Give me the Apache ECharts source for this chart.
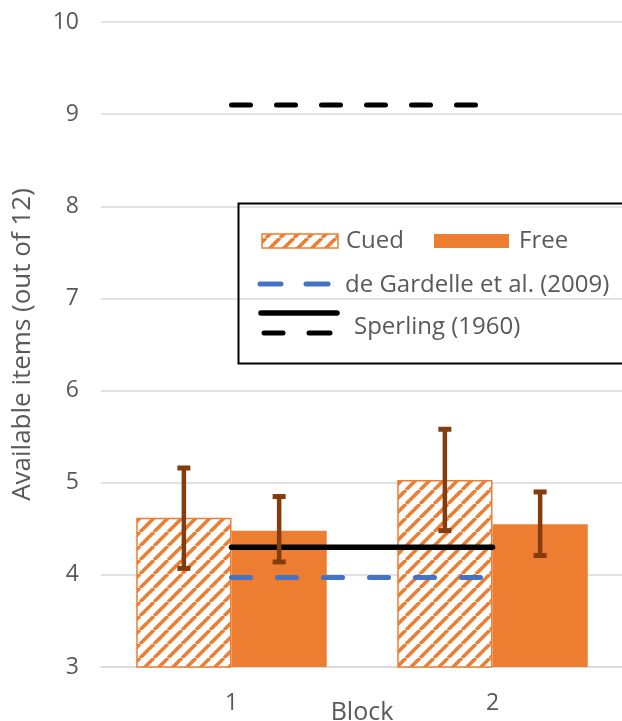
<!DOCTYPE html>
<html>
<head>
<meta charset="utf-8">
<script src="https://cdn.jsdelivr.net/npm/echarts@6/dist/echarts.min.js"></script>
<style>
  html, body { margin: 0; padding: 0; background: #fff; }
  #chart { width: 622px; height: 721px; }
</style>
</head>
<body>
<div id="chart"></div>
<script>
// Available items per block, with error-bar limits
const blocks = ['1', '2'];
const cuedMeans = [4.62, 5.03];
const freeMeans = [4.48, 4.55];
const cuedLow = [4.07, 4.48];
const cuedHigh = [5.16, 5.58];
const freeLow = [4.14, 4.21];
const freeHigh = [4.85, 4.90];
// Reference levels from earlier studies
const deGardelle = [3.97, 3.97];
const sperlingPartial = [4.30, 4.30];
const sperlingWhole = [9.10, 9.10];
// Value axis range
const yMin = 3, yMax = 10, yStep = 1;

const seriesNames = ['Cued', 'Free', 'de Gardelle et al. (2009)', 'Sperling (1960)'];

const ORANGE = '#ED7D31';
const BROWN = '#843C0C';
const BLUE = '#4472C4';
const TEXT = '#595959';
const GRID = '#D9D9D9';
const FONT = '"Open Sans", sans-serif';
const GAP = 0.27;

// Diagonal hatch tile for the cued bars
function hatchTile() {
  const s = 14;
  const c = document.createElement('canvas');
  c.width = s; c.height = s;
  const g = c.getContext('2d');
  g.fillStyle = '#fff';
  g.fillRect(0, 0, s, s);
  g.strokeStyle = ORANGE;
  g.lineWidth = 3.5;
  g.beginPath();
  for (let k = -1; k <= 1; k++) {
    g.moveTo(k * s, s);
    g.lineTo(k * s + s, 0);
  }
  g.stroke();
  return c;
}
const hatch = { image: hatchTile(), repeat: 'repeat' };

// Error bars placed over the left (-1) or right (+1) bar of each block
function errorBars(name, low, high, side) {
  return {
    type: 'custom',
    name: name + ' error',
    z: 6,
    data: blocks.map((b, i) => [i, low[i], high[i]]),
    encode: { x: 0, y: [1, 2] },
    renderItem(params, api) {
      const i = api.value(0);
      const lo = api.coord([i, api.value(1)]);
      const hi = api.coord([i, api.value(2)]);
      const band = api.size([1, 0])[0];
      const barW = band * (1 - GAP) / 2;
      const x = lo[0] + side * barW / 2;
      const half = 6.5;
      const stem = { stroke: BROWN, lineWidth: 4.5 };
      const cap = { stroke: BROWN, lineWidth: 5 };
      return {
        type: 'group',
        children: [
          { type: 'line', shape: { x1: x, y1: hi[1], x2: x, y2: lo[1] }, style: stem },
          { type: 'line', shape: { x1: x - half, y1: hi[1], x2: x + half, y2: hi[1] }, style: cap },
          { type: 'line', shape: { x1: x - half, y1: lo[1], x2: x + half, y2: lo[1] }, style: cap }
        ]
      };
    }
  };
}

const legendText = (text, x, y) => ({
  type: 'text', x: x, y: y,
  style: { text: text, fill: TEXT, fontSize: 24, fontFamily: FONT, verticalAlign: 'middle', textAlign: 'left' }
});
const seg = (x1, x2, y, color, w) => ({
  type: 'line',
  shape: { x1: x1, y1: y, x2: x2, y2: y },
  style: { stroke: color, lineWidth: w, lineCap: 'round' }
});

const chart = echarts.init(document.getElementById('chart'), null, { renderer: 'canvas' });
chart.setOption({
  animation: false,
  backgroundColor: '#fff',
  grid: { left: 101, top: 22, width: 522, height: 645, containLabel: false, outerBoundsMode: 'none' },
  xAxis: {
    type: 'category',
    data: blocks,
    name: 'Block',
    nameLocation: 'middle',
    nameGap: 33,
    nameMoveOverlap: false,
    nameTextStyle: { color: TEXT, fontSize: 25, fontFamily: FONT },
    axisTick: { show: false },
    axisLine: { lineStyle: { color: GRID, width: 1.5 } },
    axisLabel: { color: TEXT, fontSize: 23, fontFamily: FONT, margin: 25 }
  },
  yAxis: {
    type: 'value',
    min: yMin, max: yMax, interval: yStep,
    name: 'Available items (out of 12)',
    nameLocation: 'middle',
    nameGap: 65,
    nameTextStyle: { color: TEXT, fontSize: 26, fontFamily: FONT },
    axisLine: { show: false },
    axisTick: { show: false },
    axisLabel: { color: TEXT, fontSize: 23, fontFamily: FONT, margin: 22 },
    splitLine: { lineStyle: { color: GRID, width: 1.5 } }
  },
  series: [
    {
      name: seriesNames[0], type: 'bar', data: cuedMeans,
      barGap: '0%', barCategoryGap: (GAP * 100) + '%',
      itemStyle: { color: hatch, borderColor: ORANGE, borderWidth: 1.5 },
      z: 2
    },
    {
      name: seriesNames[1], type: 'bar', data: freeMeans,
      barGap: '0%', barCategoryGap: (GAP * 100) + '%',
      itemStyle: { color: ORANGE },
      z: 2
    },
    {
      name: seriesNames[2], type: 'line', data: deGardelle, symbol: 'none', z: 4,
      lineStyle: { color: BLUE, width: 5, type: [19, 27], cap: 'round' }
    },
    {
      name: seriesNames[3], type: 'line', data: sperlingPartial, symbol: 'none', z: 4,
      lineStyle: { color: '#000', width: 5.5, cap: 'round' }
    },
    {
      name: seriesNames[3], type: 'line', data: sperlingWhole, symbol: 'none', z: 4,
      lineStyle: { color: '#000', width: 5, type: [19, 26], cap: 'round' }
    },
    errorBars(seriesNames[0], cuedLow, cuedHigh, -1),
    errorBars(seriesNames[1], freeLow, freeHigh, 1)
  ],
  graphic: [
    {
      type: 'rect', z: 10,
      shape: { x: 238.5, y: 203.5, width: 400, height: 160 },
      style: { fill: 'none', stroke: '#000', lineWidth: 2 }
    },
    {
      type: 'group', z: 10,
      children: [
        { type: 'rect', shape: { x: 262, y: 234, width: 76, height: 14 },
          style: { fill: hatch, stroke: ORANGE, lineWidth: 1.5 } },
        legendText(seriesNames[0], 346, 241),
        { type: 'rect', shape: { x: 434, y: 234, width: 75, height: 14 },
          style: { fill: ORANGE } },
        legendText(seriesNames[1], 519, 241),
        seg(260, 281, 284, BLUE, 5),
        seg(306, 328, 284, BLUE, 5),
        legendText(seriesNames[2], 345, 285),
        seg(261, 337, 313, '#000', 5.5),
        seg(264, 283, 333, '#000', 5),
        seg(309, 330, 333, '#000', 5),
        legendText(seriesNames[3], 354, 327)
      ]
    }
  ]
});
</script>
</body>
</html>
